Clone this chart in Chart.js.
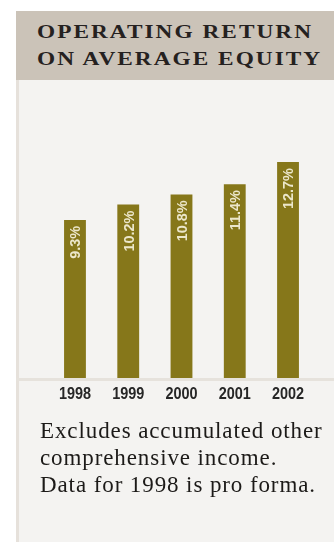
<!DOCTYPE html>
<html>
<head>
<meta charset="utf-8">
<script src="https://cdn.jsdelivr.net/npm/chart.js@4/dist/chart.umd.min.js"></script>
<style>
  html, body { margin: 0; padding: 0; background: #ffffff; }
  body { width: 334px; height: 542px; position: relative; overflow: hidden; }
  #panel { position: absolute; left: 16px; top: 80px; width: 318px; height: 462px;
           background: #f4f3f1; border-left: 3px solid #e6e1db; box-sizing: border-box; }
  #head { position: absolute; left: 16px; top: 11px; width: 318px; height: 69px;
          background: #cbc3b8; }
  #head div { position: absolute; left: 21px; font-family: "Liberation Serif", serif;
              font-weight: bold; font-size: 22px; line-height: 22px; letter-spacing: 1.9px;
              color: #252120; white-space: nowrap;
              transform: scale(1.06, 0.9); transform-origin: 0 0; }
  #wrap { position: absolute; left: 16px; top: 80px; width: 318px; height: 340px; }
  #note { position: absolute; left: 40px; top: 417px; font-family: "Liberation Serif", serif;
          font-size: 23px; line-height: 27px; letter-spacing: 0.9px; color: #1c1a18;
          white-space: nowrap; }
</style>
</head>
<body>
<div id="panel"></div>
<div id="head">
  <div style="top:10.5px">OPERATING RETURN</div>
  <div style="top:37.5px">ON AVERAGE EQUITY</div>
</div>
<div id="wrap"><canvas id="c"></canvas></div>
<div id="note">Excludes accumulated other<br>comprehensive income.<br>Data for 1998 is pro forma.</div>
<script>
const years = ['1998', '1999', '2000', '2001', '2002'];
const returnOnEquity = [9.3, 10.2, 10.8, 11.4, 12.7];

const sans = '"Liberation Sans", Arial, sans-serif';

// light base line across the panel at the zero level
const baseLine = {
  id: 'baseLine',
  beforeDatasetsDraw(chart) {
    const ctx = chart.ctx;
    const y = chart.scales.y.getPixelForValue(0);
    ctx.save();
    ctx.fillStyle = '#e6e2dc';
    ctx.fillRect(0, y, chart.width, 3);
    ctx.restore();
  }
};

// condensed year labels under each category
const yearLabels = {
  id: 'yearLabels',
  afterDraw(chart) {
    const ctx = chart.ctx;
    const xs = chart.scales.x;
    const y = chart.scales.y.getPixelForValue(0) + 16.5;
    ctx.save();
    ctx.fillStyle = '#262626';
    ctx.font = 'bold 17px ' + sans;
    ctx.textAlign = 'center';
    ctx.textBaseline = 'middle';
    years.forEach((label, i) => {
      ctx.save();
      ctx.translate(xs.getPixelForTick(i), y);
      ctx.scale(0.85, 1);
      ctx.fillText(label, 0, 0);
      ctx.restore();
    });
    ctx.restore();
  }
};

// rotated value labels inside the top of each bar
const barLabels = {
  id: 'barLabels',
  afterDatasetsDraw(chart) {
    const ctx = chart.ctx;
    const meta = chart.getDatasetMeta(0);
    ctx.save();
    ctx.fillStyle = '#ece7cb';
    ctx.font = 'bold 15.5px ' + sans;
    ctx.textAlign = 'right';
    ctx.textBaseline = 'middle';
    meta.data.forEach((bar, i) => {
      ctx.save();
      ctx.translate(bar.x + 1, bar.y + 6);
      ctx.rotate(-Math.PI / 2);
      ctx.scale(0.93, 1);
      ctx.fillText(returnOnEquity[i].toFixed(1) + '%', 0, 0);
      ctx.restore();
    });
    ctx.restore();
  }
};

new Chart(document.getElementById('c'), {
  type: 'bar',
  data: {
    labels: years,
    datasets: [{
      data: returnOnEquity,
      backgroundColor: '#86771a',
      barPercentage: 0.41,
      categoryPercentage: 1.0
    }]
  },
  options: {
    responsive: true,
    maintainAspectRatio: false,
    animation: false,
    events: [],
    layout: { padding: { left: 32.35, right: 19.35, top: 26, bottom: 42 } },
    plugins: { legend: { display: false }, tooltip: { enabled: false } },
    scales: {
      x: {
        grid: { display: false, drawTicks: false },
        border: { display: false },
        ticks: { display: false }
      },
      y: {
        display: false,
        min: 0,
        max: 16
      }
    }
  },
  plugins: [baseLine, barLabels, yearLabels]
});
</script>
</body>
</html>
